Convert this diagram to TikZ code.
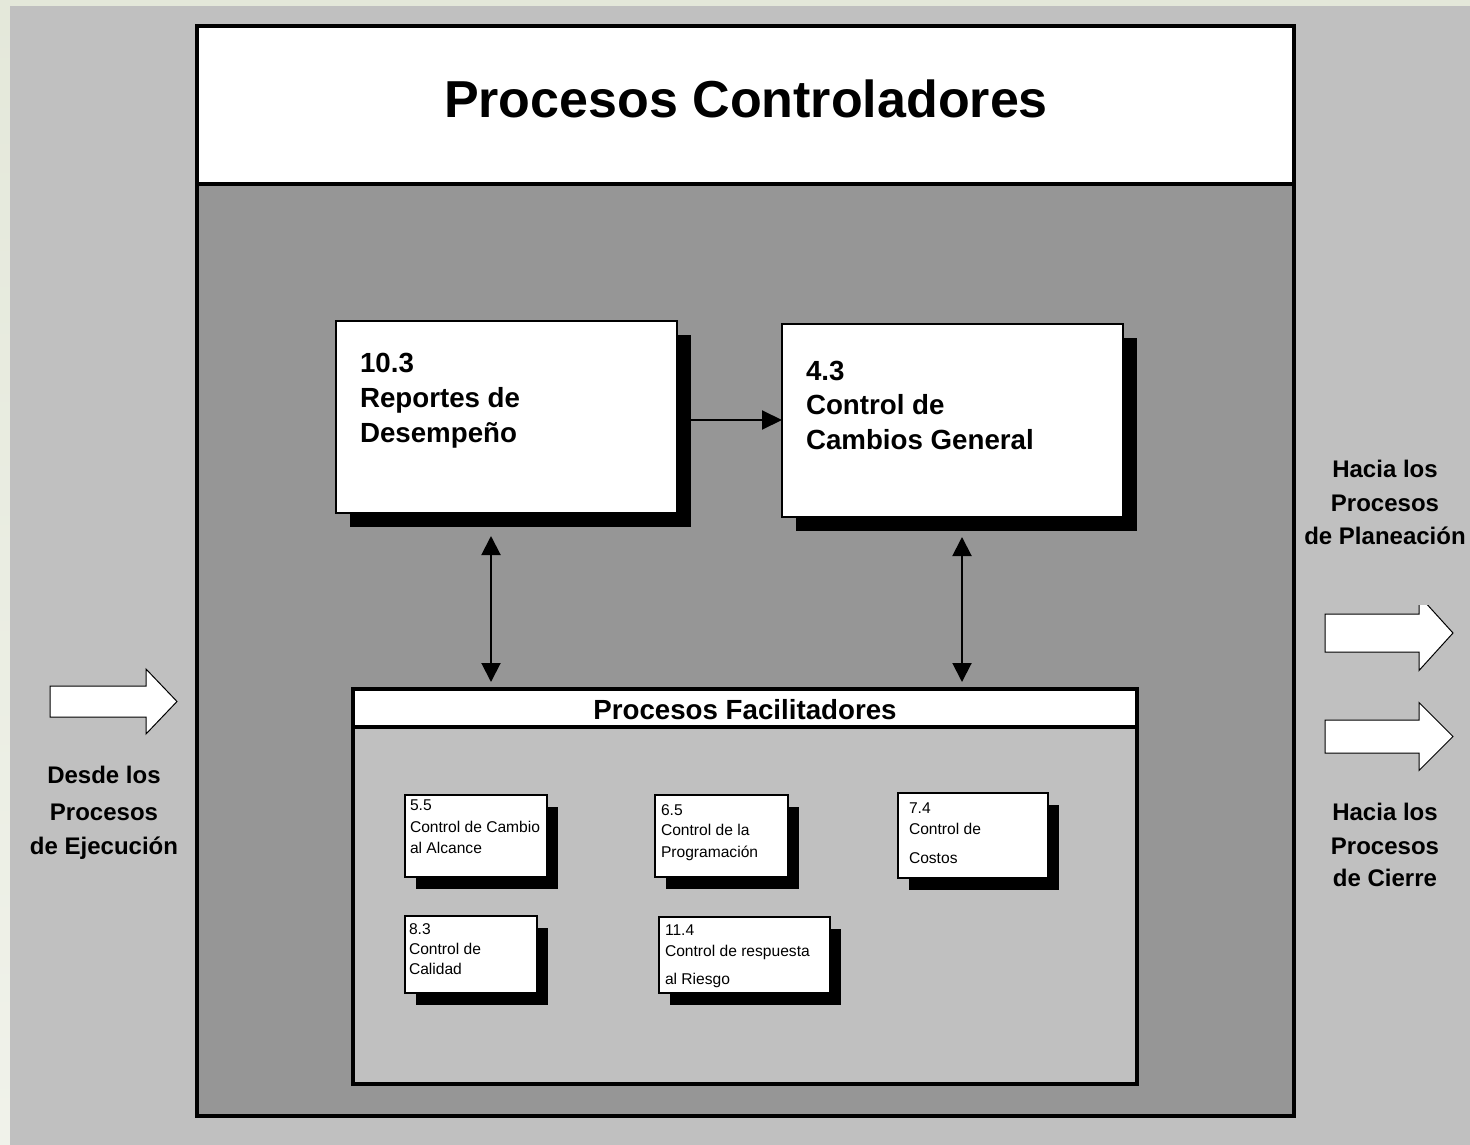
\documentclass[tikz,border=0pt]{standalone}
\usepackage{fontspec}
\setmainfont{Liberation Sans}
\usetikzlibrary{arrows.meta,shadows,calc}
\definecolor{outerbg}{RGB}{228,232,218}
\definecolor{outerbgb}{RGB}{240,242,234}
\definecolor{panel}{RGB}{192,192,192}
\definecolor{darkpanel}{RGB}{150,150,150}
\tikzset{
  box/.style={draw=black, fill=white, inner sep=0pt, outer sep=0pt, anchor=north west, rectangle},
  framebox/.style={box, line width=4pt},
  bigbox/.style={box, line width=1.5pt, general shadow={shadow xshift=14pt, shadow yshift=-14pt, fill=black, draw=none}},
  smallbox/.style={box, line width=1.1pt, general shadow={shadow xshift=11pt, shadow yshift=-12pt, fill=black, draw=none}},
  txt/.style={inner sep=0pt, outer sep=0pt, anchor=base west},
  bigtxt/.style={txt, font=\fontsize{27.7}{33}\selectfont\bfseries},
  smalltxt/.style={txt, font=\fontsize{15.6}{19}\selectfont},
  sidetxt/.style={inner sep=0pt, outer sep=0pt, anchor=base, font=\fontsize{24}{29}\selectfont\bfseries},
  titletxt/.style={inner sep=0pt, outer sep=0pt, anchor=base, font=\fontsize{52}{60}\selectfont\bfseries},
  arr/.style={line width=2pt, -{Triangle[length=20pt,width=19pt]}},
  dblarr/.style={line width=2pt, {Triangle[length=19pt,width=19pt]}-{Triangle[length=19pt,width=19pt]}},
  blockarrow/.style={draw=black, fill=white, line width=1pt, line join=miter}
}
\begin{document}
\begin{tikzpicture}[x=1pt,y=-1pt]
\path[use as bounding box] (0,0) rectangle (1470,1145);
\shade[top color=outerbg, bottom color=outerbgb] (0,0) rectangle (1470,1145);
\fill[panel] (10,6) rectangle (1470,1145);

% main frame
\node[framebox, fill=darkpanel, minimum width=1097pt, minimum height=1090pt] (frame) at (197,26) {};
\node[framebox, fill=white, minimum width=1097pt, minimum height=157.5pt] (titlebox) at (197,26) {};
\node[titletxt] (title) at (746,118) {Procesos Controladores};

% big boxes
\node[bigbox, minimum width=341pt, minimum height=192pt] (b103) at (336,321) {};
\node[bigtxt] (b103a) at (360,372) {10.3};
\node[bigtxt] (b103b) at (360,407) {Reportes de};
\node[bigtxt] (b103c) at (360,442) {Desempeño};

\node[bigbox, minimum width=341pt, minimum height=193pt] (b43) at (782,324) {};
\node[bigtxt] (b43a) at (806,380) {4.3};
\node[bigtxt] (b43b) at (806,414) {Control de};
\node[bigtxt] (b43c) at (806,449) {Cambios General};

% facilitating processes
\node[framebox, fill=panel, minimum width=784pt, minimum height=395pt] (fac) at (353,689) {};
\node[framebox, fill=white, minimum width=784pt, minimum height=38pt] (fachead) at (353,689) {};
\node[inner sep=0pt, anchor=base, font=\fontsize{27.7}{33}\selectfont\bfseries] (factitle) at (745,719) {Procesos Facilitadores};

% small boxes
\node[smallbox, minimum width=142pt, minimum height=82pt] (s55) at (405,795) {};
\node[smalltxt] (s55a) at (410,810) {5.5};
\node[smalltxt] (s55b) at (410,832) {Control de Cambio};
\node[smalltxt] (s55c) at (410,853) {al Alcance};

\node[smallbox, minimum width=133pt, minimum height=82pt] (s65) at (655,795) {};
\node[smalltxt] (s65a) at (661,815) {6.5};
\node[smalltxt] (s65b) at (661,835) {Control de la};
\node[smalltxt] (s65c) at (661,857) {Programación};

\node[smallbox, minimum width=150pt, minimum height=85pt] (s74) at (898,793) {};
\node[smalltxt] (s74a) at (909,813) {7.4};
\node[smalltxt] (s74b) at (909,834) {Control de};
\node[smalltxt] (s74c) at (909,863) {Costos};

\node[smallbox, minimum width=132pt, minimum height=77pt] (s83) at (405,916) {};
\node[smalltxt] (s83a) at (409,934) {8.3};
\node[smalltxt] (s83b) at (409,954) {Control de};
\node[smalltxt] (s83c) at (409,974) {Calidad};

\node[smallbox, minimum width=171pt, minimum height=76pt] (s114) at (659,917) {};
\node[smalltxt] (s114a) at (665,935) {11.4};
\node[smalltxt] (s114b) at (665,956) {Control de respuesta};
\node[smalltxt] (s114c) at (665,984) {al Riesgo};

% connectors
\coordinate (ah) at (0,420);
\coordinate (lx) at (491,0);
\coordinate (rx) at (962,0);
\draw[arr] (b103.east |- ah) -- (b43.west |- ah);
\draw[dblarr, shorten <=23pt, shorten >=7pt] (b103.south -| lx) -- (fac.north -| lx);
\draw[dblarr, shorten <=20pt, shorten >=7pt] (b43.south -| rx) -- (fac.north -| rx);

% block arrows
\draw[blockarrow] (50,686) -- (146,686) -- (146,669) -- (177,701.5) -- (146,734) -- (146,717) -- (50,717) -- cycle;
\begin{scope}
\clip (1300,605.7) rectangle (1470,700);
\draw[blockarrow] (1325,614) -- (1419,614) -- (1419,595.5) -- (1453,633) -- (1419,670.5) -- (1419,652) -- (1325,652) -- cycle;
\end{scope}
\draw[blockarrow] (1325,720) -- (1419,720) -- (1419,702.5) -- (1453,736.5) -- (1419,770.5) -- (1419,753) -- (1325,753) -- cycle;

% side texts
\node[sidetxt] (d1) at (104,783) {Desde los};
\node[sidetxt] (d2) at (104,820) {Procesos};
\node[sidetxt] (d3) at (104,854) {de Ejecución};

\node[sidetxt] (h1) at (1385,477) {Hacia los};
\node[sidetxt] (h2) at (1385,511) {Procesos};
\node[sidetxt] (h3) at (1385,544) {de Planeación};

\node[sidetxt] (c1) at (1385,820) {Hacia los};
\node[sidetxt] (c2) at (1385,854) {Procesos};
\node[sidetxt] (c3) at (1385,886) {de Cierre};
\end{tikzpicture}
\end{document}
